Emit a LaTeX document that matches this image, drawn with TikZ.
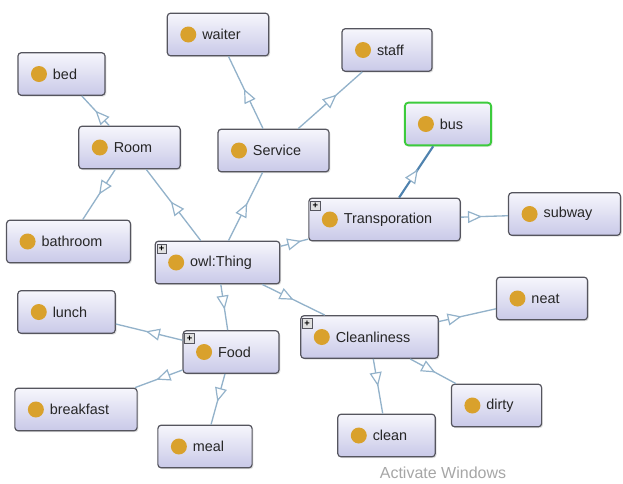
\documentclass[tikz,border=0pt]{standalone}
\usepackage{fontspec}
\setmainfont{Liberation Sans}
\usepackage{xcolor}
\usepackage{tikz}
\usetikzlibrary{arrows.meta, shadows, decorations.markings}
\definecolor{owl.gold}{HTML}{D9A12C}
\definecolor{owl.top}{HTML}{F6F6FC}
\definecolor{owl.bottom}{HTML}{C9C9E8}
\definecolor{owl.border}{HTML}{55555E}
\definecolor{owl.edge}{HTML}{93B2CA}
\definecolor{owl.sel}{HTML}{4F82AE}
\definecolor{owl.green}{HTML}{3CCB3C}
\tikzstyle{onto.class} = [rectangle, rounded corners=2.5pt, draw=owl.border, line width=0.9pt, top color=owl.top, bottom color=owl.bottom, minimum height=32pt, inner xsep=21pt, text=black!85, font=\fontsize{10.8}{12}\selectfont, execute at begin node={\hspace*{5.25pt}}, path picture={\fill[owl.gold] ([xshift=15.75pt]path picture bounding box.west) circle (6pt);}, drop shadow={opacity=0.25, shadow xshift=1pt, shadow yshift=-1pt}]
\tikzstyle{onto.plus} = [draw=owl.border, fill=black!12, line width=0.5pt, inner sep=0pt, minimum size=7pt, font=\fontsize{7}{7}\selectfont\bfseries, anchor=north west, xshift=1.5pt, yshift=-2.5pt]
\tikzstyle{onto.more} = [onto.class, label={[onto.plus]north west:+}]
\tikzset{onto.edge/.style={draw=owl.edge, line width=1pt, postaction={decorate, decoration={markings, mark=at position #1 with {\arrow[owl.edge, line width=0.9pt]{Triangle[length=10.5pt, width=9pt, fill=white]}}}}}, onto.edge/.default=0.55}

\begin{document}
\begin{tikzpicture}[x=0.75pt, y=-0.75pt]
\useasboundingbox (0,0) rectangle (623,483);
\node[onto.more] (thing) at (217.5,262.5) {owl:Thing};
\node[onto.class] (room) at (129.5,147.5) {Room};
\node[onto.class] (service) at (273.5,150.5) {Service};
\node[onto.more] (transport) at (384.5,219.5) {Transporation};
\node[onto.more] (food) at (231,352) {Food};
\node[onto.more] (clean_all) at (369.5,337) {Cleanliness};

\node[onto.class] (bed) at (61.5,74) {bed};
\node[onto.class] (bathroom) at (68.5,241.5) {bathroom};
\node[onto.class] (waiter) at (218,34.5) {waiter};
\node[onto.class] (staff) at (387,50) {staff};
\node[onto.class, draw=owl.green, line width=1.4pt] (bus) at (448,124) {bus};
\node[onto.class] (subway) at (564.5,214) {subway};
\node[onto.class] (lunch) at (66.5,312) {lunch};
\node[onto.class] (breakfast) at (76,409.5) {breakfast};
\node[onto.class] (meal) at (205,446.5) {meal};
\node[onto.class] (neat) at (542,298.5) {neat};
\node[onto.class] (dirty) at (496.5,405.5) {dirty};
\node[onto.class] (clean) at (386.5,435.5) {clean};

\node[text=black!35, font=\fontsize{12}{14}\selectfont] (watermark) at (443,473) {Activate Windows};

\draw[onto.edge] (thing) -- (room);
\draw[onto.edge] (thing) -- (service);
\draw[onto.edge=0.75] (thing) -- (transport);
\draw[onto.edge] (thing) -- (food);
\draw[onto.edge=0.5] (thing) -- (clean_all);

\draw[onto.edge=0.5] (room) -- (bed);
\draw[onto.edge=0.5] (room) -- (bathroom);
\draw[onto.edge] (service) -- (waiter);
\draw[onto.edge=0.6] (service) -- (staff);
\draw[onto.edge=0.55, draw=owl.sel, line width=1.6pt] (transport) -- (bus);
\draw[onto.edge=0.45] (transport) -- (subway);
\draw[onto.edge] (food) -- (lunch);
\draw[onto.edge] (food) -- (breakfast);
\draw[onto.edge] (food) -- (meal);
\draw[onto.edge=0.4] (clean_all) -- (neat);
\draw[onto.edge] (clean_all) -- (dirty);
\draw[onto.edge=0.5] (clean_all) -- (clean);
\end{tikzpicture}
\end{document}
